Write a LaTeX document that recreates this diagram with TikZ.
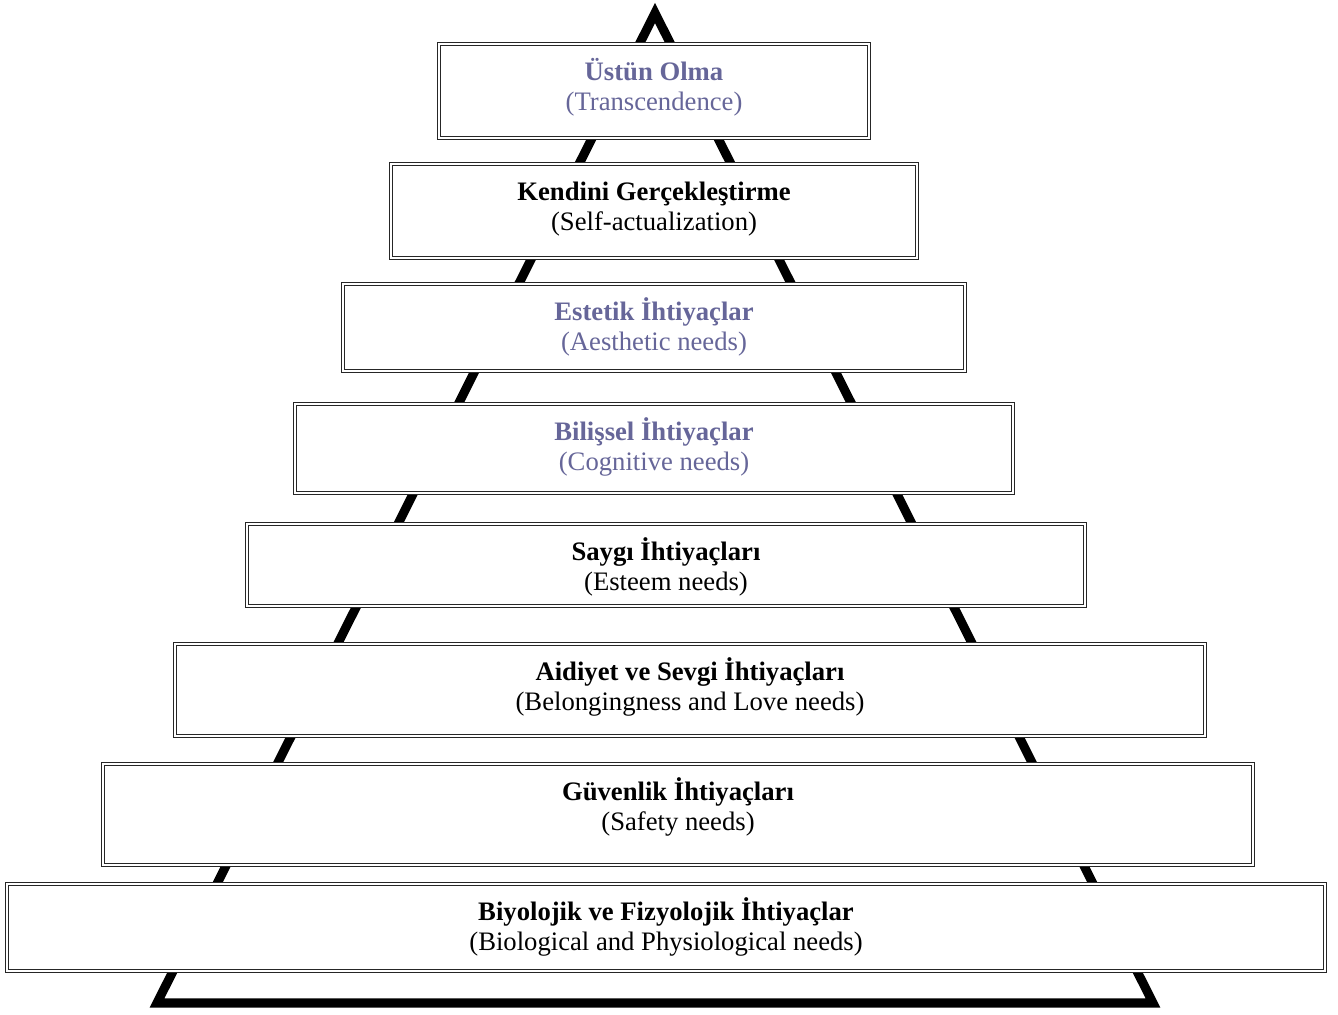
\documentclass[tikz,border=0pt]{standalone}
\usepackage{fontspec}
\setmainfont{Liberation Serif}
\usetikzlibrary{fit}
\definecolor{lavender}{RGB}{102,102,153}
\newcommand\firststrut{\rule{0pt}{18pt}}
\begin{document}
\begin{tikzpicture}[x=0.75pt,y=-0.75pt,
  frame/.style={draw=black!85, double=white, line width=0.6pt, double distance=1.3pt,
    fill=white, inner sep=0pt, fit={#1}},
  caption/.style={anchor=north, inner sep=0pt, align=center,
    font=\fontsize{20pt}{22.5pt}\selectfont, yshift=-9.75pt},
  pyramid/.style={line width=6.8pt, line join=miter}]
\useasboundingbox (0,0) rectangle (1338,1014);

% outline of the pyramid behind the levels
\coordinate (apex) at (655,13);
\coordinate (bl) at (157,1003);
\coordinate (br) at (1153,1003);
\draw[pyramid] (apex) -- (bl) -- (br) -- cycle;

% levels, from top to bottom
\node[frame={(439,44) (869,138)}] (b1) {};
\node[caption, text=lavender] (t1) at (b1.north) {\firststrut\textbf{Üstün Olma}\\(Transcendence)};

\node[frame={(391,164) (917,258)}] (b2) {};
\node[caption] (t2) at (b2.north) {\firststrut\textbf{Kendini Gerçekleştirme}\\(Self-actualization)};

\node[frame={(343,284) (965,371)}] (b3) {};
\node[caption, text=lavender] (t3) at (b3.north) {\firststrut\textbf{Estetik İhtiyaçlar}\\(Aesthetic needs)};

\node[frame={(295,404) (1013,493)}] (b4) {};
\node[caption, text=lavender] (t4) at (b4.north) {\firststrut\textbf{Bilişsel İhtiyaçlar}\\(Cognitive needs)};

\node[frame={(247,524) (1085,606)}] (b5) {};
\node[caption] (t5) at (b5.north) {\firststrut\textbf{Saygı İhtiyaçları}\\(Esteem needs)};

\node[frame={(175,644) (1205,736)}] (b6) {};
\node[caption] (t6) at (b6.north) {\firststrut\textbf{Aidiyet ve Sevgi İhtiyaçları}\\(Belongingness and Love needs)};

\node[frame={(103,764) (1253,865)}] (b7) {};
\node[caption] (t7) at (b7.north) {\firststrut\textbf{Güvenlik İhtiyaçları}\\(Safety needs)};

\node[frame={(7,884) (1325,971)}] (b8) {};
\node[caption] (t8) at (b8.north) {\firststrut\textbf{Biyolojik ve Fizyolojik İhtiyaçlar}\\(Biological and Physiological needs)};
\end{tikzpicture}
\end{document}
